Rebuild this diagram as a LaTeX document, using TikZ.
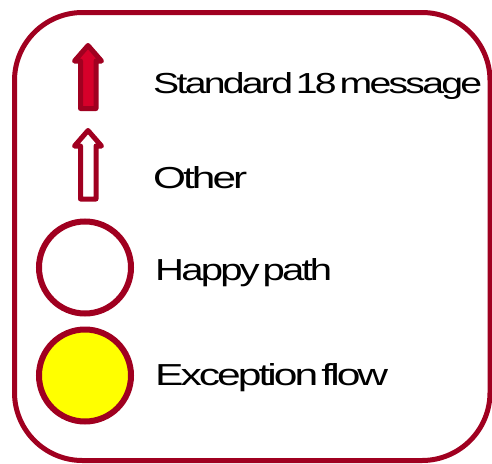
\documentclass[tikz,border=0pt]{standalone}
\usepackage{fontspec}
\setmainfont{Liberation Sans}[LetterSpace=-7,WordSpace=0.35]
\definecolor{bord}{RGB}{160,0,32}
\definecolor{arrfill}{RGB}{214,0,42}
\definecolor{yel}{RGB}{255,255,0}
\begin{document}
\begin{tikzpicture}[x=1pt,y=-1pt,
  frame/.style={draw=bord,line width=5pt,rounded corners=68pt},
  legarrow/.style={draw=bord,line width=5pt,line join=round},
  legcircle/.style={circle,draw=bord,line width=6pt,minimum size=92pt,inner sep=0pt},
  legtext/.style={anchor=base west,inner sep=0pt,text=black}]
\useasboundingbox (0,0) rectangle (492,463);
\draw[frame] (14.5,12.5) rectangle (490,460.5);
% standard message arrow (filled)
\draw[legarrow,fill=arrfill] (88,45.5) -- (101.5,61) -- (96,61) -- (96,108.5) -- (80.5,108.5) -- (80.5,61) -- (74.5,61) -- cycle;
% other arrow (hollow)
\draw[legarrow,fill=white] (88,130.5) -- (101.5,146) -- (96,146) -- (96,199) -- (80.5,199) -- (80.5,146) -- (74.5,146) -- cycle;
\node[legcircle,fill=white] (happy) at (85,267.5) {};
\node[legcircle,fill=yel] (exc) at (85,375.5) {};
\node[legtext] (t1) at (153,93) {\resizebox{329pt}{21pt}{Standard 18 message}};
\node[legtext] (t2) at (153,188) {\resizebox{94pt}{22pt}{Other}};
\node[legtext] (t3) at (155,280) {\resizebox{177pt}{22pt}{Happy path}};
\node[legtext] (t4) at (155,385) {\resizebox{233pt}{22pt}{Exception flow}};
\end{tikzpicture}
\end{document}
